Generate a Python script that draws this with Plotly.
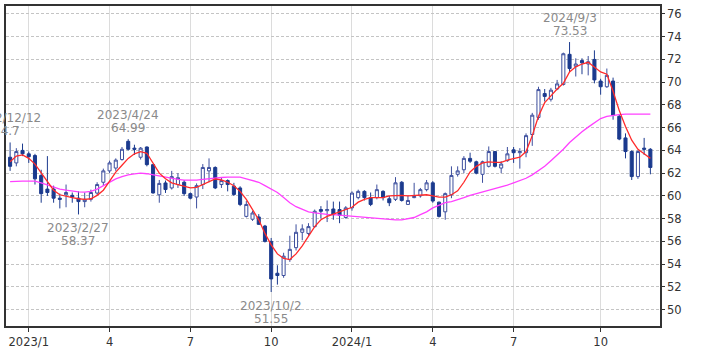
import pandas as pd
import plotly.graph_objects as go

# Weekly candles, first week 2022-12-12
dates = [d.strftime("%Y-%m-%d") for d in pd.date_range("2022-12-12", periods=104, freq="7D")]

opens = [63.4, 62.9, 64.0, 63.7, 63.55, 61.8, 60.6, 60.6, 59.8, 60.1,
         60.05, 59.8, 59.5, 59.7, 60.25, 61.2, 62.2, 62.45, 63.2, 64.8,
         64.2, 63.4, 64.3, 62.75, 60.1, 61.14, 60.7, 61.0, 61.2, 60.2,
         59.9, 61.0, 62.2, 62.5, 61.0, 61.35, 60.86, 60.7, 58.2, 57.95,
         58.15, 57.35, 56.0, 53.2, 53.0, 54.4, 55.45, 56.8, 56.7, 57.3,
         58.8, 58.7, 58.85, 58.8, 58.1, 58.95, 59.85, 60.4, 59.85, 59.85,
         60.4, 59.75, 59.7, 61.2, 59.25, 59.85, 60.0, 60.55, 61.15, 59.45,
         58.6, 60.1, 61.9, 62.3, 63.3, 63.0, 61.9, 62.6, 63.9, 62.45,
         63.1, 64.05, 63.8, 63.8, 65.4, 66.9, 69.0, 68.5, 69.4, 69.8,
         72.45, 71.4, 71.9, 71.6, 72.0, 70.1, 69.6, 70.1, 67.0, 65.1,
         63.9, 61.7, 64.2, 64.1]
highs = [64.7, 64.2, 64.6, 63.9, 63.7, 62.3, 63.5, 60.9, 60.2, 61.0,
         60.3, 60.4, 60.3, 60.55, 61.2, 62.4, 63.1, 63.3, 64.3, 64.99,
         64.5, 64.3, 64.35, 62.8, 61.4, 61.35, 62.2, 62.0, 61.4, 60.3,
         61.1, 62.8, 63.3, 62.6, 61.6, 61.45, 61.15, 60.85, 59.55, 58.7,
         58.4, 57.45, 56.3, 53.9, 55.0, 56.5, 57.5, 57.5, 57.6, 58.8,
         59.1, 59.6, 59.5, 59.5, 59.1, 60.4, 60.55, 60.5, 60.3, 61.0,
         60.5, 60.0, 61.65, 61.3, 60.0, 61.15, 60.7, 61.4, 61.3, 59.5,
         60.3, 62.6, 62.6, 63.5, 63.8, 63.1, 63.1, 64.35, 63.95, 63.05,
         64.3, 64.3, 64.2, 65.5, 67.3, 69.6, 69.4, 69.5, 70.2, 72.6,
         73.53, 72.1, 72.1, 72.3, 72.8, 70.3, 71.2, 70.4, 67.2, 65.5,
         64.0, 64.0, 65.1, 64.2]
lows = [62.2, 62.6, 63.5, 62.9, 61.0, 59.4, 60.0, 59.4, 58.9, 59.0,
        59.4, 58.37, 59.0, 59.5, 60.1, 60.9, 62.0, 62.2, 63.1, 64.0,
        63.6, 63.2, 62.6, 60.2, 59.4, 60.26, 60.56, 60.7, 60.0, 59.7,
        58.9, 60.6, 61.2, 60.6, 60.7, 60.4, 60.0, 59.1, 58.1, 57.8,
        57.45, 55.9, 51.55, 52.2, 52.8, 54.2, 55.2, 56.1, 56.5, 57.2,
        58.0, 57.7, 57.9, 57.6, 58.0, 58.7, 59.7, 59.6, 59.1, 59.7,
        59.6, 59.1, 59.55, 59.5, 59.25, 59.8, 59.85, 60.4, 59.4, 58.1,
        57.9, 59.8, 61.7, 62.0, 62.9, 61.9, 61.15, 62.5, 62.5, 62.0,
        63.0, 62.9, 62.4, 63.4, 64.4, 66.7, 68.3, 68.3, 69.3, 69.7,
        70.9, 70.5, 70.7, 70.6, 69.9, 68.9, 69.5, 66.7, 64.9, 63.3,
        61.4, 61.5, 63.6, 61.9]
closes = [62.6, 63.9, 63.7, 63.45, 61.5, 60.2, 60.3, 59.8, 59.7, 60.3,
          59.9, 59.5, 59.7, 60.3, 61.0, 62.2, 62.9, 63.15, 64.1, 64.1,
          64.1, 64.2, 62.75, 60.26, 61.1, 60.56, 61.7, 61.6, 60.2, 59.8,
          60.9, 62.5, 62.5, 60.7, 61.35, 61.0, 60.13, 59.25, 59.25, 58.5,
          57.5, 56.0, 52.7, 53.0, 54.7, 55.3, 56.8, 57.1, 57.3, 58.65,
          58.65, 58.8, 58.35, 58.3, 58.95, 60.25, 60.4, 59.85, 59.25, 60.55,
          59.85, 59.4, 61.15, 59.6, 59.6, 59.95, 60.55, 61.15, 59.55, 58.2,
          60.2, 61.8, 62.2, 63.3, 63.05, 62.0, 63.0, 63.9, 62.6, 62.8,
          63.7, 63.8, 63.9, 65.3, 67.1, 69.35, 68.75, 69.3, 69.85, 72.5,
          71.2, 71.6, 71.7, 71.8, 70.2, 69.6, 70.6, 67.1, 65.0, 63.9,
          61.7, 63.9, 64.1, 62.5]

ma_short = [63.0, 63.5, 63.6, 63.3, 62.8, 62.0, 61.2, 60.5, 60.1, 59.95,
            59.85, 59.75, 59.7, 59.75, 60.05, 60.5, 61.3, 62.1, 62.7, 63.3,
            63.7, 63.9, 63.75, 62.9, 62.0, 61.5, 61.15, 61.0, 60.85, 60.7,
            60.75, 61.0, 61.2, 61.5, 61.4, 61.2, 60.9, 60.4, 59.7, 58.8,
            57.9, 56.7, 55.7, 54.9, 54.5, 54.4, 54.9, 55.6, 56.4, 57.3,
            57.9, 58.2, 58.4, 58.6, 58.8, 59.0, 59.45, 59.7, 59.85, 59.85,
            59.85, 60.0, 60.05, 60.05, 60.0, 60.05, 60.1, 60.1, 60.0, 59.9,
            59.9, 60.1, 60.45, 61.2, 62.1, 62.6, 62.9, 63.0, 62.95, 62.95,
            63.15, 63.3, 63.4, 63.9, 65.3, 67.0, 68.2, 68.8, 69.4, 69.9,
            70.9, 71.35, 71.6, 71.75, 71.35, 70.9, 70.7, 69.2, 67.5, 66.1,
            64.9, 64.1, 63.7, 63.3]
ma_long = [61.25, 61.3, 61.3, 61.3, 61.3, 61.15, 60.95, 60.75, 60.6, 60.5,
           60.4, 60.35, 60.33, 60.4, 60.6, 60.9, 61.2, 61.5, 61.7, 61.85,
           61.93, 62.0, 61.95, 61.85, 61.7, 61.6, 61.5, 61.45, 61.38, 61.35,
           61.38, 61.45, 61.52, 61.58, 61.62, 61.65, 61.68, 61.65, 61.5, 61.35,
           61.2, 60.9, 60.6, 60.3, 59.85, 59.4, 59.05, 58.8, 58.6, 58.5,
           58.42, 58.38, 58.35, 58.3, 58.26, 58.22, 58.2, 58.15, 58.1, 58.05,
           58.0, 57.92, 57.9, 57.9, 58.0, 58.1, 58.35, 58.6, 58.95, 59.2,
           59.4, 59.5, 59.65, 59.85, 60.05, 60.2, 60.35, 60.45, 60.65, 60.8,
           60.95, 61.15, 61.35, 61.55, 61.85, 62.2, 62.6, 63.1, 63.6, 64.1,
           64.7, 65.2, 65.65, 66.05, 66.45, 66.8, 67.0, 67.1, 67.15, 67.2,
           67.2, 67.2, 67.2, 67.2]

tick_dates = ["2023-01-02", "2023-04-03", "2023-07-03", "2023-10-02",
              "2024-01-01", "2024-04-01", "2024-07-01", "2024-10-07"]
tick_labels = ["2023/1", "4", "7", "10", "2024/1", "4", "7", "10"]
y_ticks = list(range(50, 77, 2))

ann_index = [0, 11, 19, 42, 90]
ann_dates = ["2022/12/12", "2023/2/27", "2023/4/24", "2023/10/2", "2024/9/3"]
ann_values = [64.7, 58.37, 64.99, 51.55, 73.53]
ann_side = ["above", "below", "above", "below", "above"]

FONT = "DejaVu Sans"
fig = go.Figure()
fig.add_trace(go.Candlestick(
    x=dates, open=opens, high=highs, low=lows, close=closes,
    increasing=dict(line=dict(color="#3d4f9e", width=1), fillcolor="#ffffff"),
    decreasing=dict(line=dict(color="#1b3a8e", width=1), fillcolor="#1b3a8e"),
    whiskerwidth=0, showlegend=False, hoverinfo="skip"))
fig.add_trace(go.Scatter(x=dates, y=ma_long, mode="lines",
                         line=dict(color="#ff40ff", width=1.3), showlegend=False))
fig.add_trace(go.Scatter(x=dates, y=ma_short, mode="lines",
                         line=dict(color="#ff2a2a", width=1.3), showlegend=False))

annotations = []
for idx, dtext, val, side in zip(ann_index, ann_dates, ann_values, ann_side):
    if side == "above":
        shifts = (24.5, 11.5)
    else:
        shifts = (-13.5, -26.5)
    xs = -4 if idx == 0 else 0
    for text, sh in zip((dtext, f"{val:g}"), shifts):
        annotations.append(dict(
            x=dates[idx], y=val, xref="x", yref="y", text=text,
            showarrow=False, xanchor="center", yanchor="middle",
            yshift=sh, xshift=xs,
            font=dict(family=FONT, size=12, color="#8a8a8a")))

fig.update_layout(
    width=709, height=354,
    margin=dict(l=4, r=49, t=4, b=28),
    paper_bgcolor="#ffffff", plot_bgcolor="#ffffff",
    showlegend=False,
    annotations=annotations,
    xaxis=dict(
        type="category", range=[-0.66, 104.55],
        tickmode="array", tickvals=tick_dates, ticktext=tick_labels,
        showgrid=True, gridcolor="#dcdcdc", gridwidth=1,
        ticks="outside", ticklen=4, tickcolor="#333333",
        showline=True, linecolor="#333333", linewidth=1.5, mirror=True,
        rangeslider=dict(visible=False),
        tickfont=dict(family=FONT, size=11.5, color="#333333")),
    yaxis=dict(
        side="right", range=[48.56, 76.7],
        tickmode="array", tickvals=y_ticks,
        showgrid=True, gridcolor="#c4c4c4", gridwidth=1, griddash="3px,2px",
        ticks="outside", ticklen=3, tickcolor="#333333",
        showline=True, linecolor="#333333", linewidth=1.5, mirror=True,
        zeroline=False,
        tickfont=dict(family=FONT, size=11.5, color="#333333")),
)

fig.write_html("out.html")
